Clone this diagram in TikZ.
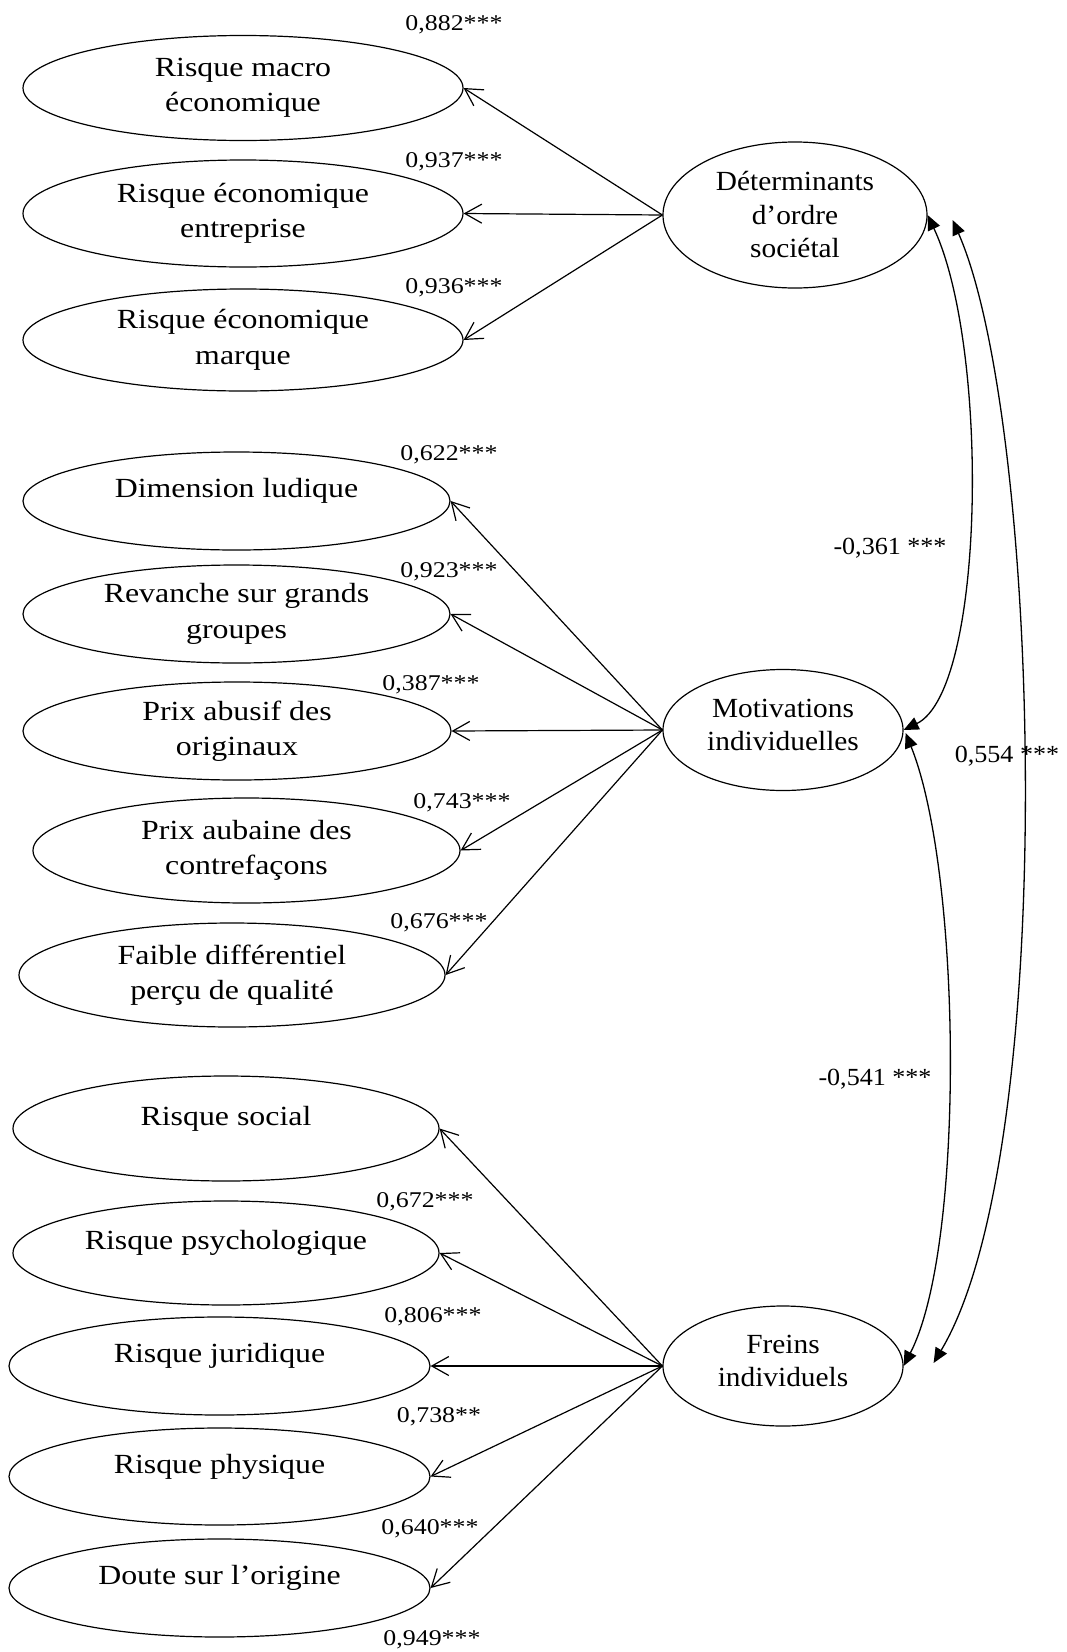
\documentclass[tikz,border=0pt]{standalone}
\usepackage{fontspec}
\setmainfont{Liberation Serif}
\newfontfamily\lft{Liberation Serif}[FakeStretch=1.15]
\newfontfamily\rgt{Liberation Serif}[FakeStretch=1.06]
\usetikzlibrary{shapes.geometric,arrows.meta,calc}

\begin{document}
\begin{tikzpicture}[x=1pt,y=-1pt,
  ind/.style n args={2}{draw,ellipse,line width=1.2pt,inner xsep=0pt,inner ysep=-15pt,minimum width=#1,minimum height=#2,align=center,font=\lft\fontsize{27.7}{35.5}\selectfont},
  lat/.style n args={2}{ind={#1}{#2},font=\rgt\fontsize{27.7}{33.5}\selectfont},
  one/.style={text height=19pt,text depth=26pt},
  two/.style={execute at begin node={\rule{0pt}{31pt}}},
  hi/.style={execute at end node={\rule[-10pt]{0pt}{1pt}}},
  coef/.style={anchor=base,inner sep=0pt,font=\lft\fontsize{22.5}{26}\selectfont},
  corr/.style={anchor=base,inner sep=0pt,font=\rgt\fontsize{24.6}{28}\selectfont},
  arr/.style={-{Straight Barb[length=17pt,width=19pt,line width=1.2pt]},line width=1.2pt},
  cor/.style={{Triangle[length=15pt,width=13pt]}-{Triangle[length=15pt,width=13pt]},line width=1.3pt}]
  \useasboundingbox (0,0) rectangle (1066,1652);
  \node[ind={440pt}{105pt},two] (macro) at (243,88) {Risque macro\\économique};
  \node[ind={440pt}{107pt},two] (entr) at (243,213.5) {Risque économique\\entreprise};
  \node[ind={440pt}{102pt},two] (marq) at (243,340) {Risque économique\\marque};
  \node[ind={427pt}{98pt},one] (ludi) at (236.5,501) {Dimension ludique};
  \node[ind={427pt}{98pt},two] (rev) at (236.5,614) {Revanche sur grands\\groupes};
  \node[ind={428pt}{98pt},two] (abus) at (237,731) {Prix abusif des\\originaux};
  \node[ind={427pt}{105pt},two] (aub) at (246.5,850.5) {Prix aubaine des\\contrefaçons};
  \node[ind={426pt}{104pt},two] (qual) at (232,975) {Faible différentiel\\perçu de qualité};
  \node[ind={426pt}{105pt},one] (soc) at (226,1128.5) {Risque social};
  \node[ind={426pt}{104pt},one] (psy) at (226,1253) {Risque psychologique};
  \node[ind={421pt}{98pt},one] (jur) at (219.5,1366) {Risque juridique};
  \node[ind={421pt}{97pt},one] (phys) at (219.5,1476.5) {Risque physique};
  \node[ind={421pt}{98pt},one] (orig) at (219.5,1588) {Doute sur l’origine};
  \node[lat={264pt}{146pt}] (det) at (795,215) {Déterminants\\d’ordre\\sociétal};
  \node[lat={240pt}{121pt},hi] (mot) at (783,730) {Motivations\\individuelles};
  \node[lat={240pt}{120pt},hi] (frn) at (783,1366) {Freins\\individuels};
  \node[coef] (cmacro) at (454,30) {0,882***};
  \node[coef] (centr) at (454,167) {0,937***};
  \node[coef] (cmarq) at (454,293) {0,936***};
  \node[coef] (cludi) at (449,460) {0,622***};
  \node[coef] (crev) at (449,577) {0,923***};
  \node[coef] (cabus) at (431,690) {0,387***};
  \node[coef] (caub) at (462,808) {0,743***};
  \node[coef] (cqual) at (439,928) {0,676***};
  \node[coef] (csoc) at (425,1207) {0,672***};
  \node[coef] (cpsy) at (433,1322) {0,806***};
  \node[coef] (cjur) at (439,1422) {0,738**};
  \node[coef] (cphys) at (430,1534) {0,640***};
  \node[coef] (corig) at (432,1645) {0,949***};
  \draw[arr] (det.west)--(macro.east);
  \draw[arr] (det.west)--(entr.east);
  \draw[arr] (det.west)--(marq.east);
  \draw[arr] (mot.west)--(ludi.east);
  \draw[arr] (mot.west)--(rev.east);
  \draw[arr] (mot.west)--(abus.east);
  \draw[arr] (mot.west)--(aub.east);
  \draw[arr] (mot.west)--(qual.east);
  \draw[arr] (frn.west)--(soc.east);
  \draw[arr] (frn.west)--(psy.east);
  \draw[arr] (frn.west)--(jur.east);
  \draw[arr] (frn.west)--(phys.east);
  \draw[arr] (frn.west)--(orig.east);
  \draw[cor] (det.east) .. controls +(62,132) and +(82,-40) .. (mot.east);
  \draw[cor] ($(mot.east)+(2,3)$) .. controls +(56,139) and +(62,-120) .. (frn.east);
  \draw[cor] ($(det.east)+(25,5)$) .. controls +(88,200) and +(127,-213) .. ($(frn.east)+(30,-3)$);
  \node[corr] (rdm) at (890,554) {-0,361 ***};
  \node[corr] (rdf) at (1007,762) {0,554 ***};
  \node[corr] (rmf) at (875,1085) {-0,541 ***};
\end{tikzpicture}
\end{document}
